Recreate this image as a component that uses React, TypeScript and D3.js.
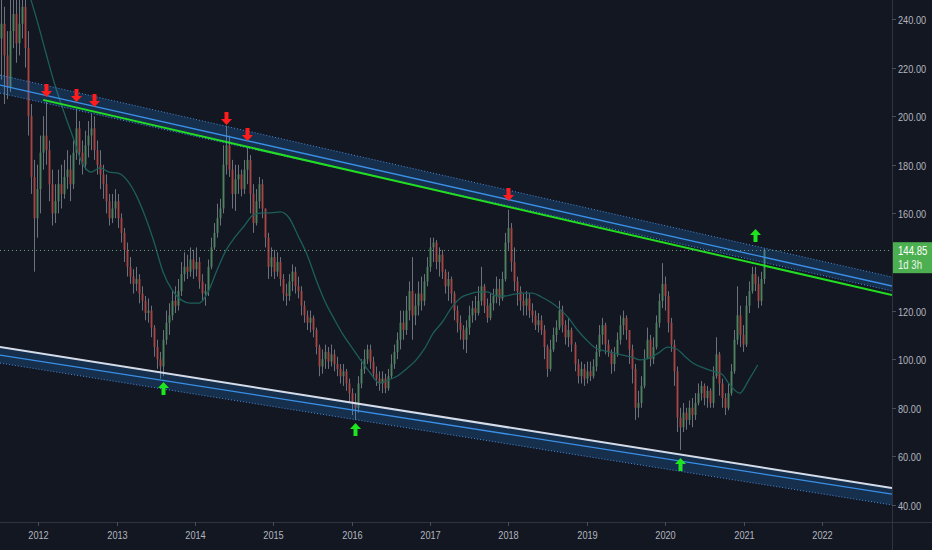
import React, { useRef, useEffect } from "react";
import * as d3 from "d3";

const width = 932;
const height = 550;
const plotW = 892;
const plotH = 522;

// visible time span of the chart
const chartStart = new Date(2011, 6, 7);
const chartEnd = new Date(2022, 10, 24);

// two-week candles
const firstBar = new Date(2011, 6, 11);
const barDays = 14;
const firstOpen = 232;

const closes = [
  238, 225, 212, 235, 242, 230, 238, 245, 228, 200,
  175, 158, 170, 185, 192, 186, 172, 160, 165, 172,
  168, 175, 178, 172, 185, 195, 185, 180, 188, 192,
  195, 186, 180, 176, 172, 165, 158, 162, 165, 158,
  152, 145, 138, 134, 131, 133, 127, 124, 119, 120,
  113, 105, 100, 97, 108, 115, 118, 124, 122, 128,
  135, 138, 136, 141, 137, 140, 132, 127, 128, 138,
  146, 152, 158, 162, 180, 188, 178, 168, 174, 176,
  170, 178, 182, 168, 156, 165, 172, 162, 150, 138,
  142, 136, 140, 133, 127, 126, 132, 136, 130, 128,
  122, 118, 115, 117, 112, 105, 97, 100, 103, 99,
  102, 98, 96, 93, 95, 90, 86, 82, 80, 90,
  96, 100, 104, 99, 94, 92, 90, 92, 88, 93,
  98, 103, 108, 115, 112, 120, 128, 118, 122, 127,
  124, 132, 138, 146, 148, 140, 143, 136, 130, 133,
  127, 120, 115, 112, 108, 113, 118, 121, 119, 124,
  130, 122, 117, 123, 126, 129, 125, 133, 148, 154,
  140, 132, 128, 124, 122, 125, 120, 118, 114, 116,
  112, 105, 96, 104, 110, 113, 120, 114, 109, 112,
  106, 98, 93, 96, 92, 95, 93, 97, 103, 110,
  114, 106, 103, 98, 102, 108, 114, 117, 112, 104,
  96, 80, 82, 89, 100, 108, 100, 105, 115, 124,
  131, 126, 115, 106, 95, 76, 72, 78, 75, 80,
  77, 82, 86, 89, 84, 87, 82, 93, 102, 90,
  84, 80, 86, 95, 108, 118, 110, 106, 122, 128,
  135, 131, 124, 133, 144.85,
];

const highs = [
  248, 245, 235, 250, 255, 252, 255, 258, 250, 235,
  205, 182, 180, 192, 200, 206, 190, 178, 172, 178,
  180, 182, 186, 184, 190, 203, 198, 190, 194, 198,
  201, 200, 190, 186, 180, 176, 168, 168, 170, 168,
  160, 154, 148, 142, 137, 138, 135, 130, 126, 125,
  122, 114, 108, 103, 112, 120, 123, 128, 130, 133,
  140, 144, 143, 146, 145, 146, 142, 135, 131, 141,
  150, 156, 164, 166, 188, 196, 192, 182, 180, 180,
  178, 182, 187, 184, 172, 170, 175, 174, 162, 152,
  146, 145, 144, 142, 135, 131, 135, 139, 138, 134,
  130, 124, 120, 120, 118, 113, 106, 104, 106, 105,
  106, 104, 101, 98, 98, 96, 92, 88, 86, 93,
  100, 104, 106, 106, 101, 97, 95, 95, 94, 96,
  102, 106, 111, 120, 120, 126, 132, 142, 127, 132,
  134, 135, 142, 150, 150, 149, 146, 145, 137, 136,
  134, 128, 122, 118, 114, 116, 122, 124, 126, 130,
  138, 131, 125, 127, 129, 134, 133, 136, 152, 161.5,
  156, 146, 134, 130, 127, 128, 127, 123, 120, 119,
  118, 114, 106, 108, 113, 116, 124, 122, 116, 117,
  113, 107, 100, 99, 98, 99, 99, 100, 106, 114,
  117, 115, 108, 104, 105, 111, 118, 120, 118, 112,
  106, 98, 87, 93, 104, 113, 110, 109, 118, 127,
  139.5, 134, 128, 117, 108, 97, 80, 82, 80, 83,
  84, 86, 90, 91, 90, 89, 88, 97, 109, 103,
  92, 86, 90, 98, 112, 130, 122, 114, 126, 132,
  138, 138, 134, 136, 145.5,
];

const lows = [
  215, 205, 207, 210, 228, 222, 225, 232, 220, 192,
  168, 136, 150, 160, 178, 180, 165, 155, 156, 160,
  162, 166, 170, 165, 170, 182, 180, 176, 178, 183,
  186, 182, 176, 170, 166, 160, 155, 156, 158, 154,
  148, 140, 134, 131, 127, 128, 123, 120, 116, 115,
  109, 101, 96, 92, 93, 106, 110, 116, 119, 120,
  126, 132, 133, 134, 133, 134, 129, 124, 122, 126,
  137, 145, 150, 155, 160, 176, 175, 162, 161, 168,
  167, 168, 172, 160, 152, 155, 162, 158, 146, 133,
  134, 133, 134, 130, 124, 122, 124, 128, 127, 125,
  118, 115, 112, 111, 109, 102, 93, 94, 96, 96,
  97, 95, 93, 90, 89, 87, 82, 77, 75, 78,
  88, 94, 98, 96, 92, 89, 87, 86, 86, 87,
  92, 96, 100, 104, 108, 110, 116, 108, 114, 118,
  120, 122, 130, 136, 140, 137, 134, 133, 127, 124,
  123, 116, 111, 108, 104, 102.5, 110, 115, 116, 118,
  122, 119, 115, 116, 120, 123, 122, 124, 132, 145,
  136, 128, 122, 120, 118, 118, 117, 115, 112, 111,
  110, 100, 92.7, 95, 103, 107, 112, 111, 106, 105,
  103, 95, 90, 90, 89, 90, 91, 92, 95, 101,
  106, 102, 101, 94, 95, 101, 106, 110, 108, 98,
  90, 75, 76, 80, 88, 100, 97, 98, 104, 113,
  121, 120, 111, 103, 89, 70, 62.6, 70, 71, 73,
  72, 75, 81, 83, 81, 80, 80, 80, 92, 85,
  80, 77, 79, 85, 94, 106, 105, 103, 105, 119,
  127, 128, 121, 122, 131,
];

const maFrom = 9;
const maEvery = 3;
const maValues = [
  252, 239.6, 226, 212.8, 201.7, 191.4, 181, 177, 178.7, 177,
  176.6, 173.7, 167.6, 158.9, 148.2, 135.9, 128.5, 124.4, 123.1, 123.1,
  127.7, 136.7, 144.9, 150.3, 154.8, 159.3, 160.2, 160.2, 160.6, 158.1,
  150.7, 142.9, 132.6, 123.5, 116.5, 110, 104.6, 99.3, 94.3, 90.2,
  91.4, 93.1, 96, 99.3, 104.2, 110.8, 115.3, 121.1, 125.2, 126.8,
  127.7, 127.7, 126, 126, 126.8, 127.2, 127.2, 125.6, 123.5, 120.7,
  117, 112, 107.9, 104.6, 103.4, 102.6, 101.7, 100.9, 99.7, 100.5,
  102.6, 105, 104.2, 100.9, 98, 96.4, 95.1, 93.9, 89, 86,
  91.4, 97.6,
];

// channel drawings: price at chart start, price at chart end
const upperTop = [216.9, 133.8];
const upperMid = [212.8, 130.1];
const upperBottom = [209.5, 128.1];
const lowerTop = [105.0, 47.0];
const lowerMid = [101.7, 44.5];
const lowerBottom = [98.4, 40.0];
// resistance line from its first touch to chart end
const greenFrom = new Date(2012, 0, 24);
const greenPrices = [206.7, 126.4];

// arrow marks: bar index and price at the arrow tip
const redArrowBars = [15, 25, 31, 75, 82, 169];
const redArrowTips = [207.9, 205.8, 203.8, 196.4, 189.8, 165.1];
const greenArrowBars = [54, 118, 226, 251];
const greenArrowTips = [90.6, 73.7, 59.3, 153.6];

const yearTicks = d3.range(2012, 2023);
const priceTicks = d3.range(40, 241, 20);
const countdown = "1d 3h";

// no narrow font installed, so Liberation Sans is squeezed horizontally
const font = "'Liberation Sans', Arial, sans-serif";
const squeeze = 0.8;

export default function App() {
  const svgRef = useRef<SVGSVGElement>(null);

  useEffect(() => {
    if (!svgRef.current) return;
    document.body.style.margin = "0";

    const svg = d3.select(svgRef.current);
    svg.selectAll("*").remove();

    const x = d3.scaleTime().domain([chartStart, chartEnd]).range([0, plotW]);
    const y = d3.scaleLinear().domain([33, 247.8]).range([plotH, 0]);

    const dates = closes.map((_, i) => d3.timeDay.offset(firstBar, i * barDays));
    const bars = closes.map((c, i) => {
      const o = i === 0 ? firstOpen : closes[i - 1];
      return {
        date: dates[i],
        o,
        c,
        h: Math.max(highs[i], o, c),
        l: Math.min(lows[i], o, c),
      };
    });

    svg.append("rect").attr("width", width).attr("height", height).attr("fill", "#131722");

    svg.append("defs").append("clipPath").attr("id", "plot")
      .append("rect").attr("width", plotW).attr("height", plotH);

    const plot = svg.append("g").attr("clip-path", "url(#plot)");

    // candles
    const candle = plot.append("g").selectAll("g").data(bars).join("g")
      .attr("transform", d => `translate(${Math.round(x(d.date))},0)`);

    candle.append("line")
      .attr("x1", 0.5).attr("x2", 0.5)
      .attr("y1", d => y(d.h)).attr("y2", d => y(d.l))
      .attr("stroke", "#6c717b")
      .attr("stroke-width", 1);

    candle.append("rect")
      .attr("x", -0.5)
      .attr("width", 2)
      .attr("y", d => y(Math.max(d.o, d.c)))
      .attr("height", d => Math.max(1, Math.abs(y(d.o) - y(d.c))))
      .attr("fill", d => (d.c >= d.o ? "#4d835b" : "#a84140"))
      .attr("fill-opacity", 0.9);

    // moving average
    const ma = maValues.map((v, k) => ({ date: dates[maFrom + k * maEvery], v }));
    plot.append("path")
      .datum(ma)
      .attr("fill", "none")
      .attr("stroke", "#1c5f5a")
      .attr("stroke-width", 1.3)
      .attr("d", d3.line<{ date: Date; v: number }>()
        .x(d => x(d.date)).y(d => y(d.v)).curve(d3.curveMonotoneX));

    // channels
    const x0 = x(chartStart);
    const x1 = x(chartEnd);
    const band = (top: number[], bottom: number[]) => {
      plot.append("path")
        .attr("d", `M${x0},${y(top[0])}L${x1},${y(top[1])}L${x1},${y(bottom[1])}L${x0},${y(bottom[0])}Z`)
        .attr("fill", "#1e88e5")
        .attr("fill-opacity", 0.22);
    };
    const seg = (p: number[], stroke: string, w: number, dash?: string) => {
      plot.append("line")
        .attr("x1", x0).attr("y1", y(p[0]))
        .attr("x2", x1).attr("y2", y(p[1]))
        .attr("stroke", stroke)
        .attr("stroke-width", w)
        .attr("stroke-dasharray", dash ?? null);
    };

    band(upperTop, upperBottom);
    seg(upperTop, "#4a8ad8", 1, "1 2");
    seg(upperBottom, "#4a8ad8", 1, "1 2");
    seg(upperMid, "#3b8fe6", 1.3);

    band(lowerTop, lowerBottom);
    seg(lowerBottom, "#4a8ad8", 1, "1 2");
    seg(lowerMid, "#3b8fe6", 1.3);
    seg(lowerTop, "#d4dcea", 2);

    plot.append("line")
      .attr("x1", x(greenFrom)).attr("y1", y(greenPrices[0]))
      .attr("x2", x1).attr("y2", y(greenPrices[1]))
      .attr("stroke", "#22dd22")
      .attr("stroke-width", 2);

    // arrows
    const arrowDown = "M0,0L-5.5,-6L-2,-6L-2,-13L2,-13L2,-6L5.5,-6Z";
    const arrowUp = "M0,0L-5.5,6L-2,6L-2,13L2,13L2,6L5.5,6Z";

    plot.append("g").selectAll("path").data(redArrowBars).join("path")
      .attr("d", arrowDown)
      .attr("transform", (b, i) => `translate(${Math.round(x(dates[b])) + 0.5},${y(redArrowTips[i])})`)
      .attr("fill", "#ff1c1c");

    plot.append("g").selectAll("path").data(greenArrowBars).join("path")
      .attr("d", arrowUp)
      .attr("transform", (b, i) => `translate(${Math.round(x(dates[b])) + 0.5},${y(greenArrowTips[i])})`)
      .attr("fill", "#1ee61e");

    // last price line
    const last = closes[closes.length - 1];
    const ly = y(last);
    plot.append("line")
      .attr("x1", 0).attr("x2", plotW)
      .attr("y1", Math.round(ly) + 0.5).attr("y2", Math.round(ly) + 0.5)
      .attr("stroke", "#6f9c7a")
      .attr("stroke-width", 1)
      .attr("stroke-dasharray", "1 3");

    // axes
    svg.append("line")
      .attr("x1", 0).attr("x2", width).attr("y1", plotH + 0.5).attr("y2", plotH + 0.5)
      .attr("stroke", "#2f333e");
    svg.append("line")
      .attr("x1", plotW + 0.5).attr("x2", plotW + 0.5).attr("y1", 0).attr("y2", height)
      .attr("stroke", "#2f333e");

    // price ticks hidden behind the last price tag are skipped
    const shown = priceTicks.filter(d => Math.abs(y(d) - (ly + 7)) > 22);
    const yAxis = svg.append("g").selectAll("g").data(shown).join("g")
      .attr("transform", d => `translate(${plotW},${Math.round(y(d)) + 0.5})`);
    yAxis.append("line").attr("x1", 0).attr("x2", 4).attr("stroke", "#4a4e59");
    yAxis.append("text")
      .attr("transform", `translate(6,0) scale(${squeeze},1)`)
      .attr("dy", "0.35em")
      .attr("fill", "#b2b5be")
      .style("font-family", font)
      .style("font-size", "11.5px")
      .text(d => d3.format(".2f")(d));

    const xAxis = svg.append("g").selectAll("g").data(yearTicks).join("g")
      .attr("transform", d => `translate(${Math.round(x(new Date(d, 0, 1))) + 0.5},${plotH})`);
    xAxis.append("line").attr("y1", 0).attr("y2", 4).attr("stroke", "#4a4e59");
    xAxis.append("text")
      .attr("transform", `translate(0,13) scale(${squeeze},1)`)
      .attr("dy", "0.35em")
      .attr("text-anchor", "middle")
      .attr("fill", "#b2b5be")
      .style("font-family", font)
      .style("font-size", "11.5px")
      .text(d => String(d));

    // last price tag
    const tag = svg.append("g").attr("transform", `translate(${plotW + 1},${ly - 8})`);
    tag.append("rect").attr("width", width - plotW - 1).attr("height", 31).attr("fill", "#4caf50");
    tag.append("text")
      .attr("transform", `translate(5,9) scale(${squeeze},1)`)
      .attr("dy", "0.35em")
      .attr("fill", "#ffffff")
      .style("font-family", font).style("font-size", "12px")
      .text(d3.format(".2f")(last));
    tag.append("text")
      .attr("transform", `translate(5,23) scale(${squeeze},1)`)
      .attr("dy", "0.35em")
      .attr("fill", "#eaf6ea")
      .style("font-family", font).style("font-size", "12px")
      .text(countdown);
  }, []);

  return <svg ref={svgRef} width={width} height={height} style={{ display: "block" }}></svg>;
}
